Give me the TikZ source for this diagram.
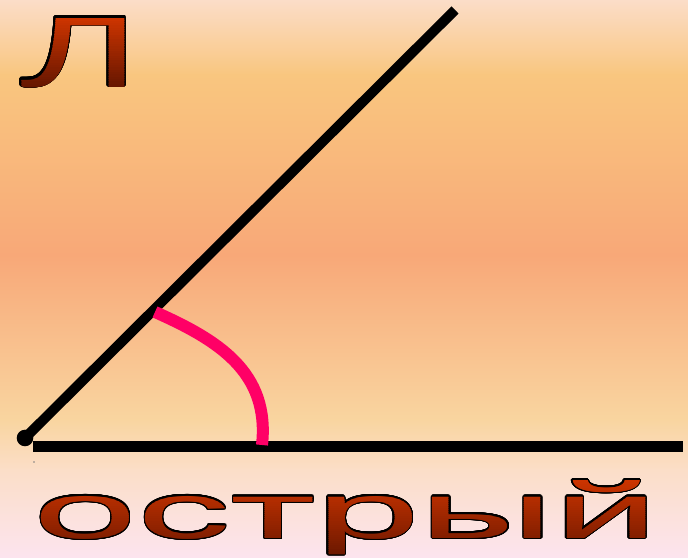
\documentclass[tikz,border=0pt]{standalone}
\usepackage{fontspec}
\usepackage{contour}
\newfontfamily\wafont{Liberation Sans}
\newfontfamily\elfont{Lato}
\contourlength{1.3pt}
\contournumber{32}
\definecolor{bgA}{HTML}{FBDDC8}
\definecolor{bgB}{HTML}{F9C67F}
\definecolor{bgC}{HTML}{F8A878}
\definecolor{bgD}{HTML}{F9D5A0}
\definecolor{bgE}{HTML}{FBDEC8}
\definecolor{bgF}{HTML}{FCE4EE}
\definecolor{waTop}{HTML}{CC3400}
\definecolor{waBot}{HTML}{661600}
\definecolor{arcpink}{HTML}{FF0066}
\newcommand\ostrtext{\resizebox{624pt}{58pt}{\wafont острый}}
\newcommand\eltext{\resizebox{117pt}{69pt}{\elfont Л}}
\tikzset{
  ray/.style={line width=10pt, black},
  arcline/.style={line width=12pt, arcpink},
  wordart/.style={inner sep=0pt, text=black},
}
\begin{document}
\begin{tikzpicture}[x=1pt, y=1pt]
  \useasboundingbox (0,0) rectangle (688,557);
  \clip (0,0) rectangle (688,557);
  % background
  \shade[top color=bgA, bottom color=bgB] (0,557) rectangle (688,481.5);
  \shade[top color=bgB, bottom color=bgC] (0,482) rectangle (688,301.5);
  \shade[top color=bgC, bottom color=bgD] (0,302) rectangle (688,136.5);
  \shade[top color=bgD, bottom color=bgE] (0,137) rectangle (688,86.5);
  \shade[top color=bgE, bottom color=bgF] (0,87) rectangle (688,0);
  % angle
  \coordinate (v) at (25,119);
  \coordinate (rayend) at (455,547);
  \coordinate (hstart) at (33,110);
  \coordinate (hend) at (683,110);
  \draw[ray] (v) -- (rayend);
  \draw[line width=11pt] (hstart) -- (hend);
  \fill (v) circle (8.3);
  \fill[gray] (34,95) circle (0.8);
  % arc mark
  \coordinate (a1) at (155,245);
  \coordinate (a2) at (262,112);
  \draw[arcline] (a1) .. controls (218,217) and (270,185) .. (a2);
  % letter: black outline, then banded gradient fill
  \node[wordart, anchor=south west] (el) at (22,469) {\contour{black}{\eltext}};
  \foreach \i in {0,...,29} {
    \pgfmathsetmacro\ya{469+\i*70/30}
    \pgfmathsetmacro\yb{469+(\i+1)*70/30+0.3}
    \pgfmathtruncatemacro\p{100*\i/29}
    \begin{scope}
      \clip (0,\ya) rectangle (200,\yb);
      \node[wordart, anchor=south west, text=waTop!\p!waBot] at (22,469) {\eltext};
    \end{scope}
  }
  % word: black outline, then banded gradient fill
  \node[wordart, anchor=base] (ostr) at (346,19) {\contour{black}{\ostrtext}};
  \foreach \i in {0,...,39} {
    \pgfmathsetmacro\ya{-4+\i*82/40}
    \pgfmathsetmacro\yb{-4+(\i+1)*82/40+0.3}
    \pgfmathtruncatemacro\p{100*\i/39}
    \begin{scope}
      \clip (0,\ya) rectangle (688,\yb);
      \node[wordart, anchor=base, text=waTop!\p!waBot] at (346,19) {\ostrtext};
    \end{scope}
  }
\end{tikzpicture}
\end{document}
